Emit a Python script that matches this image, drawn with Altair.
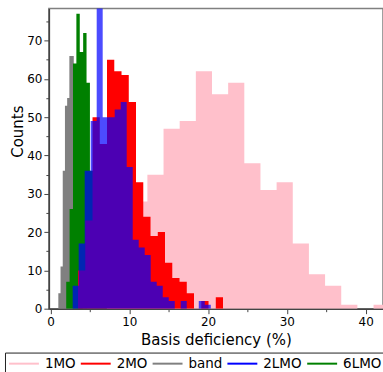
import altair as alt
import pandas as pd

# ---------------- data ----------------
series_names = ["1MO", "2MO", "band", "2LMO", "6LMO"]
series_colors = ["#FFC0CB", "#FF0000", "#808080", "#0000FF", "#008000"]

# 1MO (pink)
mo1_start, mo1_width = 4.1, 2.05
mo1_counts = [1, 4, 12, 28, 35, 47, 49, 62, 56, 59, 38, 31, 33, 17, 9, 6, 1, 0, 1]

# 2MO (red)
mo2_start, mo2_width = 3.5, 0.92
mo2_counts = [10, 23, 50, 43, 65, 62, 61, 54, 33, 24, 19, 20, 12, 8, 7, 4, 0, 2, 0, 3]

# band (gray)
band_start, band_width = 1.0, 0.28
band_counts = [4, 11, 36, 53, 55, 66, 66, 50, 35, 20, 8, 3, 1]

# 2LMO (blue)
lmo2_start, lmo2_width = 2.82, 0.762
lmo2_counts = [6, 17, 36, 49, 82, 50, 50, 52, 54, 37, 18, 16, 14, 7, 6, 3, 2, 0, 2, 0, 0, 2, 1]

# 6LMO (green)
lmo6_start, lmo6_width = 2.0, 0.43
lmo6_counts = [7, 26, 64, 77, 67, 72, 59, 36, 18, 8, 3, 1]

x_ticks = [0, 5, 10, 15, 20, 25, 30, 35, 40]
y_ticks = [0, 5, 10, 15, 20, 25, 30, 35, 40, 45, 50, 55, 60, 65, 70, 75]

series_specs = {
    "1MO": (mo1_start, mo1_width, mo1_counts),
    "2MO": (mo2_start, mo2_width, mo2_counts),
    "band": (band_start, band_width, band_counts),
    "2LMO": (lmo2_start, lmo2_width, lmo2_counts),
    "6LMO": (lmo6_start, lmo6_width, lmo6_counts),
}

rows = []
for name, (start, width, counts) in series_specs.items():
    for i, c in enumerate(counts):
        rows.append({"series": name, "x": start + i * width, "count": c})
    rows.append({"series": name, "x": start + len(counts) * width, "count": counts[-1]})
df = pd.DataFrame(rows)

FONT = "DejaVu Sans"

x_axis = alt.Axis(
    values=x_ticks,
    labelExpr="datum.value % 10 === 0 ? datum.label : ''",
    tickSize={"condition": {"test": "datum.value % 10 === 0", "value": 5}, "value": 3},
    grid=False,
    domainColor="#444", domainWidth=1.5, tickColor="#444",
    labelFont=FONT, labelFontSize=12, labelColor="black", labelPadding=3,
    title="Basis deficiency (%)", titleFont=FONT, titleFontSize=15,
    titleFontWeight="normal", titleColor="black",
    titleY=36, titleBaseline="alphabetic",
)
y_axis = alt.Axis(
    values=y_ticks,
    labelExpr="datum.value % 10 === 0 ? datum.label : ''",
    tickSize={"condition": {"test": "datum.value % 10 === 0", "value": 5}, "value": 3},
    grid=False,
    domainColor="#444", domainWidth=1.5, tickColor="#444",
    labelFont=FONT, labelFontSize=12, labelColor="black", labelPadding=2,
    title="Counts", titleFont=FONT, titleFontSize=15,
    titleFontWeight="normal", titleColor="black",
    titleX=-26, titleY=123, titleBaseline="alphabetic",
)

x_scale = alt.Scale(domain=[-0.2, 42.2], nice=False, zero=False)
y_scale = alt.Scale(domain=[0, 78.4], nice=False)
fill_scale = alt.Scale(domain=series_names, range=series_colors)

legend_def = alt.Legend(
    title=None,
    orient="none",
    legendX=-44,
    legendY=345,
    direction="horizontal",
    columns=5,
    symbolType="M-1.35,-0.2H4.65V0.2H-1.35Z",
    symbolSize=100,
    symbolStrokeWidth=0,
    symbolOpacity=1,
    symbolOffset=0,
    labelOffset=22.5,
    columnPadding=5,
    labelFont=FONT,
    labelFontSize=13.5,
    labelColor="black",
    strokeColor="#222",
    fillColor="white",
    padding=4,
)


def hist_layer(name, opacity=1.0):
    return (
        alt.Chart(df)
        .transform_filter(alt.datum.series == name)
        .mark_area(interpolate="step-after", clip=True, opacity=opacity)
        .encode(
            x=alt.X("x:Q", scale=x_scale, axis=x_axis),
            y=alt.Y("count:Q", scale=y_scale, axis=y_axis),
            fill=alt.Fill("series:N", scale=fill_scale, legend=legend_def),
        )
    )


chart = (
    alt.layer(
        hist_layer("1MO"),
        hist_layer("band"),
        hist_layer("6LMO"),
        hist_layer("2MO"),
        hist_layer("2LMO", opacity=0.7),
    )
    .properties(
        width=335,
        height=301,
        autosize=alt.AutoSizeParams(type="none"),
        padding={"left": 49, "top": 8, "right": 0, "bottom": 63},
        background="white",
    )
    .configure(font=FONT)
    .configure_view(stroke="#808080", strokeWidth=1.5)
)

chart.save("out.html", embed_options={"renderer": "svg", "actions": False})
